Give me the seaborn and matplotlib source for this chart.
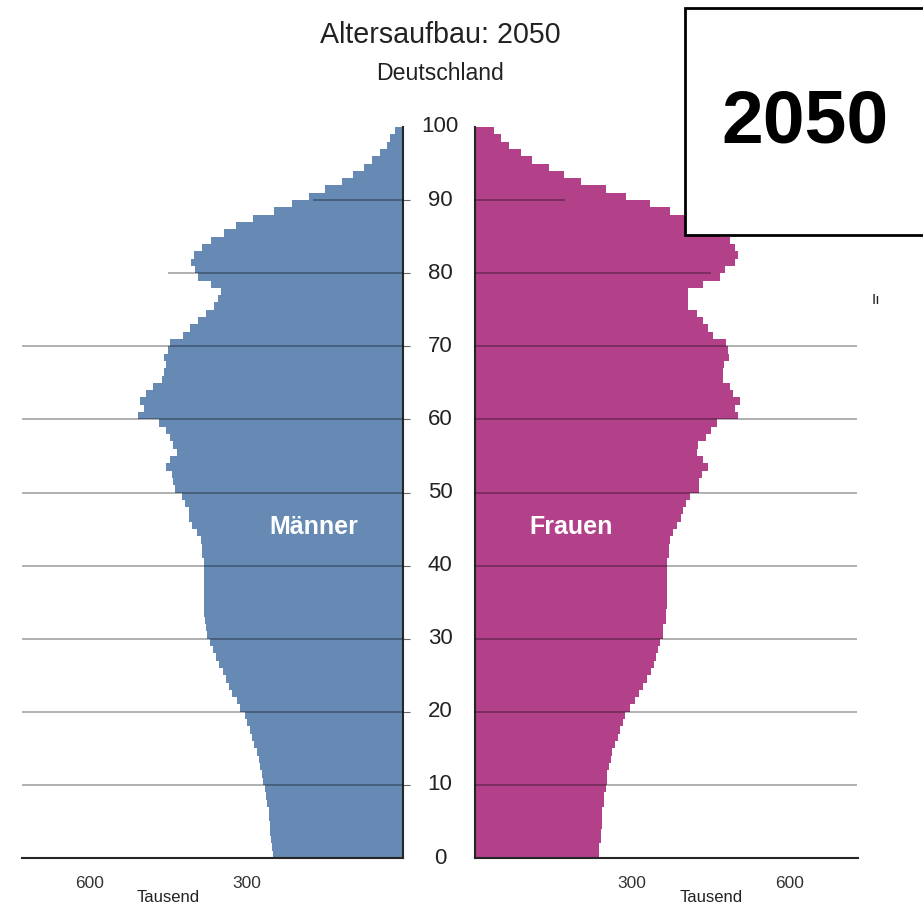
import matplotlib
matplotlib.use("Agg")
import matplotlib.pyplot as plt
import matplotlib.transforms as mtransforms
from matplotlib.patches import Rectangle
import numpy as np
import pandas as pd
import seaborn as sns

# Alter 0..99 (je ein Jahrgang), Werte in Tausend
alter = list(range(100))

maenner = [
    250, 251, 253, 255, 256, 257, 258, 260, 262, 264,
    268, 271, 274, 277, 280, 285, 290, 294, 299, 304,
    312, 318, 327, 334, 340, 346, 353, 359, 365, 371,
    376, 378, 380, 382, 382, 382, 382, 382, 382, 382,
    382, 385, 385, 388, 395, 404, 411, 411, 417, 423,
    438, 441, 443, 455, 446, 433, 440, 446, 455, 468,
    508, 497, 505, 492, 480, 462, 459, 455, 459, 450,
    446, 422, 408, 393, 377, 363, 355, 349, 369, 393,
    398, 406, 400, 385, 369, 344, 320, 288, 248, 214,
    180, 150, 118, 97, 76, 60, 44, 32, 25, 16,
]

frauen = [
    237, 237, 240, 240, 243, 243, 243, 246, 246, 249,
    252, 252, 256, 259, 262, 267, 273, 276, 282, 287,
    296, 305, 312, 320, 329, 335, 341, 345, 350, 354,
    359, 359, 364, 364, 367, 367, 367, 367, 367, 367,
    367, 370, 370, 372, 377, 385, 394, 397, 402, 410,
    428, 428, 433, 445, 436, 423, 425, 441, 450, 462,
    503, 496, 506, 493, 487, 474, 474, 475, 485, 484,
    480, 454, 445, 436, 423, 407, 407, 407, 436, 468,
    477, 496, 503, 496, 487, 470, 445, 415, 373, 334,
    289, 250, 203, 170, 140, 108, 87, 65, 49, 36,
]

alter_labels = list(range(0, 101, 10))
x_ticks = [300, 600]
grid_alter = [10, 20, 30, 40, 50, 60, 70, 80, 90]
grid_bis = [730, 730, 730, 730, 730, 730, 730, 450, 172]

df = pd.DataFrame({"alter": alter, "maenner": maenner, "frauen": frauen})
df["mitte"] = df["alter"] + 0.5

sns.set_style("white")
plt.rcParams["font.family"] = ["Liberation Sans", "DejaVu Sans"]

W, H = 923, 908
fig = plt.figure(figsize=(W / 100, H / 100), dpi=100)

bottom = 1 - 858 / H
height = (858 - 127) / H
ax_m = fig.add_axes([22 / W, bottom, (403.3 - 22) / W, height])
ax_f = fig.add_axes([475.3 / W, bottom, (857.7 - 475.3) / W, height])

col_m = "#668ab3"
col_f = "#b2418a"

sns.barplot(data=df, x="maenner", y="mitte", orient="h", native_scale=True,
            width=1, color=col_m, saturation=1, linewidth=0, errorbar=None, ax=ax_m)
sns.barplot(data=df, x="frauen", y="mitte", orient="h", native_scale=True,
            width=1, color=col_f, saturation=1, linewidth=0, errorbar=None, ax=ax_f)

ax_m.set_xlim(730, 0)
ax_f.set_xlim(0, 731)
for ax in (ax_m, ax_f):
    ax.set_ylim(0, 100)
    ax.set_xlabel("")
    ax.set_ylabel("")
    ax.set_xticks(x_ticks)
    ax.set_xticklabels([str(t) for t in x_ticks])
    ax.set_yticks(grid_alter)
    ax.set_yticklabels([])
    ax.tick_params(axis="x", direction="out", length=6, width=1, pad=7,
                   labelsize=12.5, labelcolor="#333333", color="black")
    ax.tick_params(axis="y", direction="out", length=5, width=0.8, color="#666666")
    ax.spines["top"].set_visible(False)
    ax.spines["bottom"].set_linewidth(1.5)
    # Gitterlinien liegen ueber den Balken
    for a, bis in zip(grid_alter, grid_bis):
        ax.hlines(a, 0, bis, color="black", alpha=0.33, lw=1.3, zorder=3)

ax_m.spines["left"].set_visible(False)
ax_m.spines["right"].set_linewidth(1.5)
ax_m.yaxis.tick_right()
ax_f.spines["right"].set_visible(False)
ax_f.spines["left"].set_linewidth(1.5)

# Altersbeschriftung in der Mitte
trans_mid = mtransforms.blended_transform_factory(fig.transFigure, ax_f.transData)
for a in alter_labels:
    ax_f.text(440 / W, a, str(a), transform=trans_mid, ha="center", va="center",
              fontsize=16, color="#222222", clip_on=False)

ax_m.text(171, 45.3, "Männer", color="white", fontsize=18, fontweight="bold",
          ha="center", va="center", zorder=4)
ax_f.text(183, 45.3, "Frauen", color="white", fontsize=18, fontweight="bold",
          ha="center", va="center", zorder=4)

for ax in (ax_m, ax_f):
    tr = mtransforms.blended_transform_factory(ax.transData, fig.transFigure)
    ax.text(450, 1 - 897 / H, "Tausend", transform=tr, ha="center", va="center",
            fontsize=12, color="#222222", clip_on=False)

fig.text(440 / W, 1 - 35 / H, "Altersaufbau: 2050", ha="center", va="center",
         fontsize=20.6, color="#222222")
fig.text(440 / W, 1 - 73 / H, "Deutschland", ha="center", va="center",
         fontsize=16.6, color="#222222")

box = Rectangle((685 / W, 1 - 235 / H), (W - 685) / W + 0.01, (235 - 8) / H,
                transform=fig.transFigure, facecolor="white", edgecolor="black",
                linewidth=2, zorder=10)
fig.add_artist(box)
fig.text(805 / W, 1 - 123 / H, "2050", ha="center", va="center",
         fontsize=54, fontweight="bold", color="black", zorder=11)
fig.text(876 / W, 1 - 300 / H, "Iı", ha="center", va="center",
         fontsize=11, color="#222222")

fig.savefig("out.png", dpi=100)
